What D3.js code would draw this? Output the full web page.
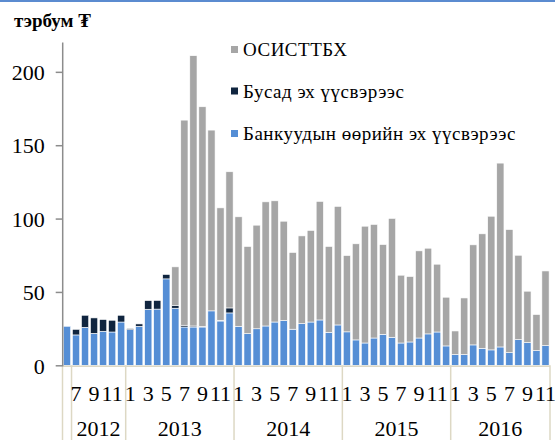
<!DOCTYPE html>
<html>
<head>
<meta charset="utf-8">
<script src="https://cdn.jsdelivr.net/npm/d3@7"></script>
<style>
  html, body { margin: 0; padding: 0; background: #fff; }
  svg { display: block; }
  svg text { font-family: "Liberation Serif", "Times New Roman", Tinos, "DejaVu Serif", serif; fill: #000; }
</style>
</head>
<body>
<svg id="chart" width="555" height="440"></svg>
<script>
// ---- Data ----
const months = [6, 7, 8, 9, 10, 11, 12,
  1, 2, 3, 4, 5, 6, 7, 8, 9, 10, 11, 12,
  1, 2, 3, 4, 5, 6, 7, 8, 9, 10, 11, 12,
  1, 2, 3, 4, 5, 6, 7, 8, 9, 10, 11, 12,
  1, 2, 3, 4, 5, 6, 7, 8, 9, 10, 11];
const yearGroups = ["", "2012", "2013", "2014", "2015", "2016"];
const yearGroupSizes = [1, 6, 12, 12, 12, 11];

const seriesNames = ["Банкуудын өөрийн эх үүсвэрээс", "Бусад эх үүсвэрээс", "ОСИСТТБХ"];

const ownSources = [26.6, 20.7, 25.9, 21.8, 23.2, 22.7, 29.5,
  24.3, 26.6, 38.2, 38.3, 58.9, 38.9, 26.1, 26.1, 26.1, 37.1, 30.2, 35.7,
  26.6, 21.6, 24.9, 26.8, 29.5, 30.5, 24.6, 28.4, 29.5, 30.9, 22.5, 27.5,
  22.8, 17.3, 15.2, 18.6, 21.1, 19.1, 15.2, 15.9, 18.6, 21.4, 22.7, 13.2,
  7.3, 7.3, 13.9, 11.6, 10.5, 12.5, 8.6, 17.5, 15.5, 10.0, 13.4];
const otherSources = [0, 3.8, 8.2, 10.5, 8.0, 8.0, 4.6,
  0.7, 1.6, 5.9, 5.9, 3.0, 2.0, 1.2, 0.7, 0.3, 0, 0.5, 3.4,
  0, 0, 0, 0, 0, 0, 0, 0, 0, 0, 0, 0,
  0, 0, 0, 0, 0, 0, 0, 0, 0, 0, 0, 0,
  0, 0, 0, 0, 0, 0, 0, 0, 0, 0, 0];
const osisttbh = [0, 0, 0, 0, 0, 0, 0,
  0, 0, 0, 0, 0, 26.2, 139.8, 184.2, 149.8, 123.2, 76.6, 92.8,
  74.6, 59.4, 70.6, 84.6, 82.6, 67.7, 52.3, 59.8, 62.4, 80.8, 58.5, 80.8,
  52.0, 65.5, 79.6, 77.4, 61.2, 81.0, 46.2, 44.6, 59.4, 58.4, 46.2, 33.2,
  16.1, 38.6, 68.2, 78.0, 91.1, 125.3, 83.9, 57.5, 35.0, 24.6, 50.9];
const yTicks = [0, 50, 100, 150, 200];
const yMax = 220;
const unitLabel = "тэрбум ₮";

// ---- Setup ----
const svg = d3.select("#chart");
const colors = { own: "#558ed5", other: "#10253f", osi: "#a6a6a6" };
const fontSize = 22;
const serif = '"Liberation Serif", "Times New Roman", Tinos, "DejaVu Serif", serif';

const idx = d3.range(months.length);
const x = d3.scaleBand().domain(idx).range([62.5, 550]).paddingInner(0.2).paddingOuter(0.1);
const y = d3.scaleLinear().domain([0, yMax]).range([365.3, 42.5]);

const rows = idx.map(i => ({ i, own: ownSources[i], other: otherSources[i], osi: osisttbh[i] }));
const stack = d3.stack().keys(["own", "other", "osi"]);
const stacked = stack(rows);

// top blue strip
svg.append("rect").attr("x", 0).attr("y", 0).attr("width", 555).attr("height", 2).attr("fill", "#5b8bd0");

// title
svg.append("text").attr("x", 14).attr("y", 27)
  .attr("font-family", serif)
  .style("font-size", "19px").style("font-weight", "bold").text(unitLabel);

// bars
svg.append("g").selectAll("g").data(stacked).join("g")
  .attr("fill", d => colors[d.key])
  .selectAll("rect").data(d => d.filter(p => p[1] - p[0] > 0)).join("rect")
  .attr("x", d => x(d.data.i))
  .attr("width", x.bandwidth())
  .attr("y", d => y(d[1]))
  .attr("height", d => y(d[0]) - y(d[1]))
  .attr("stroke", "#ffffff").attr("stroke-width", 0.6);

// x axis baseline and group separators
const step = x.step();
const x0 = 62.5;
svg.append("line").attr("x1", x0).attr("x2", 550).attr("y1", y(0) + 1).attr("y2", y(0) + 1)
  .attr("stroke", "#ddd8c4").attr("stroke-width", 1.5);
let cum = 0;
const bounds = [0];
yearGroupSizes.forEach(s => { cum += s; bounds.push(cum); });
svg.append("g").selectAll("line").data(bounds).join("line")
  .attr("x1", k => x0 + k * step).attr("x2", k => x0 + k * step)
  .attr("y1", y(0)).attr("y2", 440)
  .attr("stroke", "#ddd8c4").attr("stroke-width", 1.5);

// month labels (odd months)
svg.append("g").selectAll("text").data(idx.filter(i => months[i] % 2 === 1)).join("text")
  .attr("x", i => x(i) + x.bandwidth() / 2)
  .attr("y", 401)
  .attr("text-anchor", "middle")
  .attr("font-family", serif)
  .style("font-size", fontSize + "px")
  .text(i => months[i]);

// year labels
const groupData = yearGroups.map((g, k) => ({ g, a: bounds[k], b: bounds[k + 1] }));
svg.append("g").selectAll("text").data(groupData.filter(d => d.g)).join("text")
  .attr("x", d => x0 + (d.a + d.b) / 2 * step)
  .attr("y", 436)
  .attr("text-anchor", "middle")
  .attr("font-family", serif)
  .style("font-size", fontSize + "px")
  .text(d => d.g);

// y axis
const yAxis = d3.axisLeft(y).tickValues(yTicks).tickSize(7).tickPadding(11).tickFormat(d3.format("d"));
const gy = svg.append("g").attr("transform", "translate(62.7,0)").call(yAxis);
gy.attr("font-family", serif);
gy.select(".domain").attr("stroke", "#8c8c8c").attr("stroke-width", 1.5).attr("d", `M0,${y(yMax)}V${y(0) + 1}`);
gy.selectAll(".tick line").attr("stroke", "#8c8c8c").attr("stroke-width", 1.5);
gy.selectAll(".tick text")
  .attr("font-family", serif)
  .style("font-size", fontSize + "px").attr("fill", "#000").attr("dy", "0.35em");

// legend
const legendItems = [
  { name: seriesNames[2], color: colors.osi, yb: 56 },
  { name: seriesNames[1], color: colors.other, yb: 97.5 },
  { name: seriesNames[0], color: colors.own, yb: 140 }
];
const lg = svg.append("g").selectAll("g").data(legendItems).join("g");
lg.append("rect").attr("x", 231).attr("y", d => d.yb - 10).attr("width", 7).attr("height", 7)
  .attr("fill", d => d.color);
lg.append("text").attr("x", 243).attr("y", d => d.yb)
  .attr("font-family", serif)
  .style("font-size", "19px").style("letter-spacing", "0.5px").text(d => d.name);
</script>
</body>
</html>
